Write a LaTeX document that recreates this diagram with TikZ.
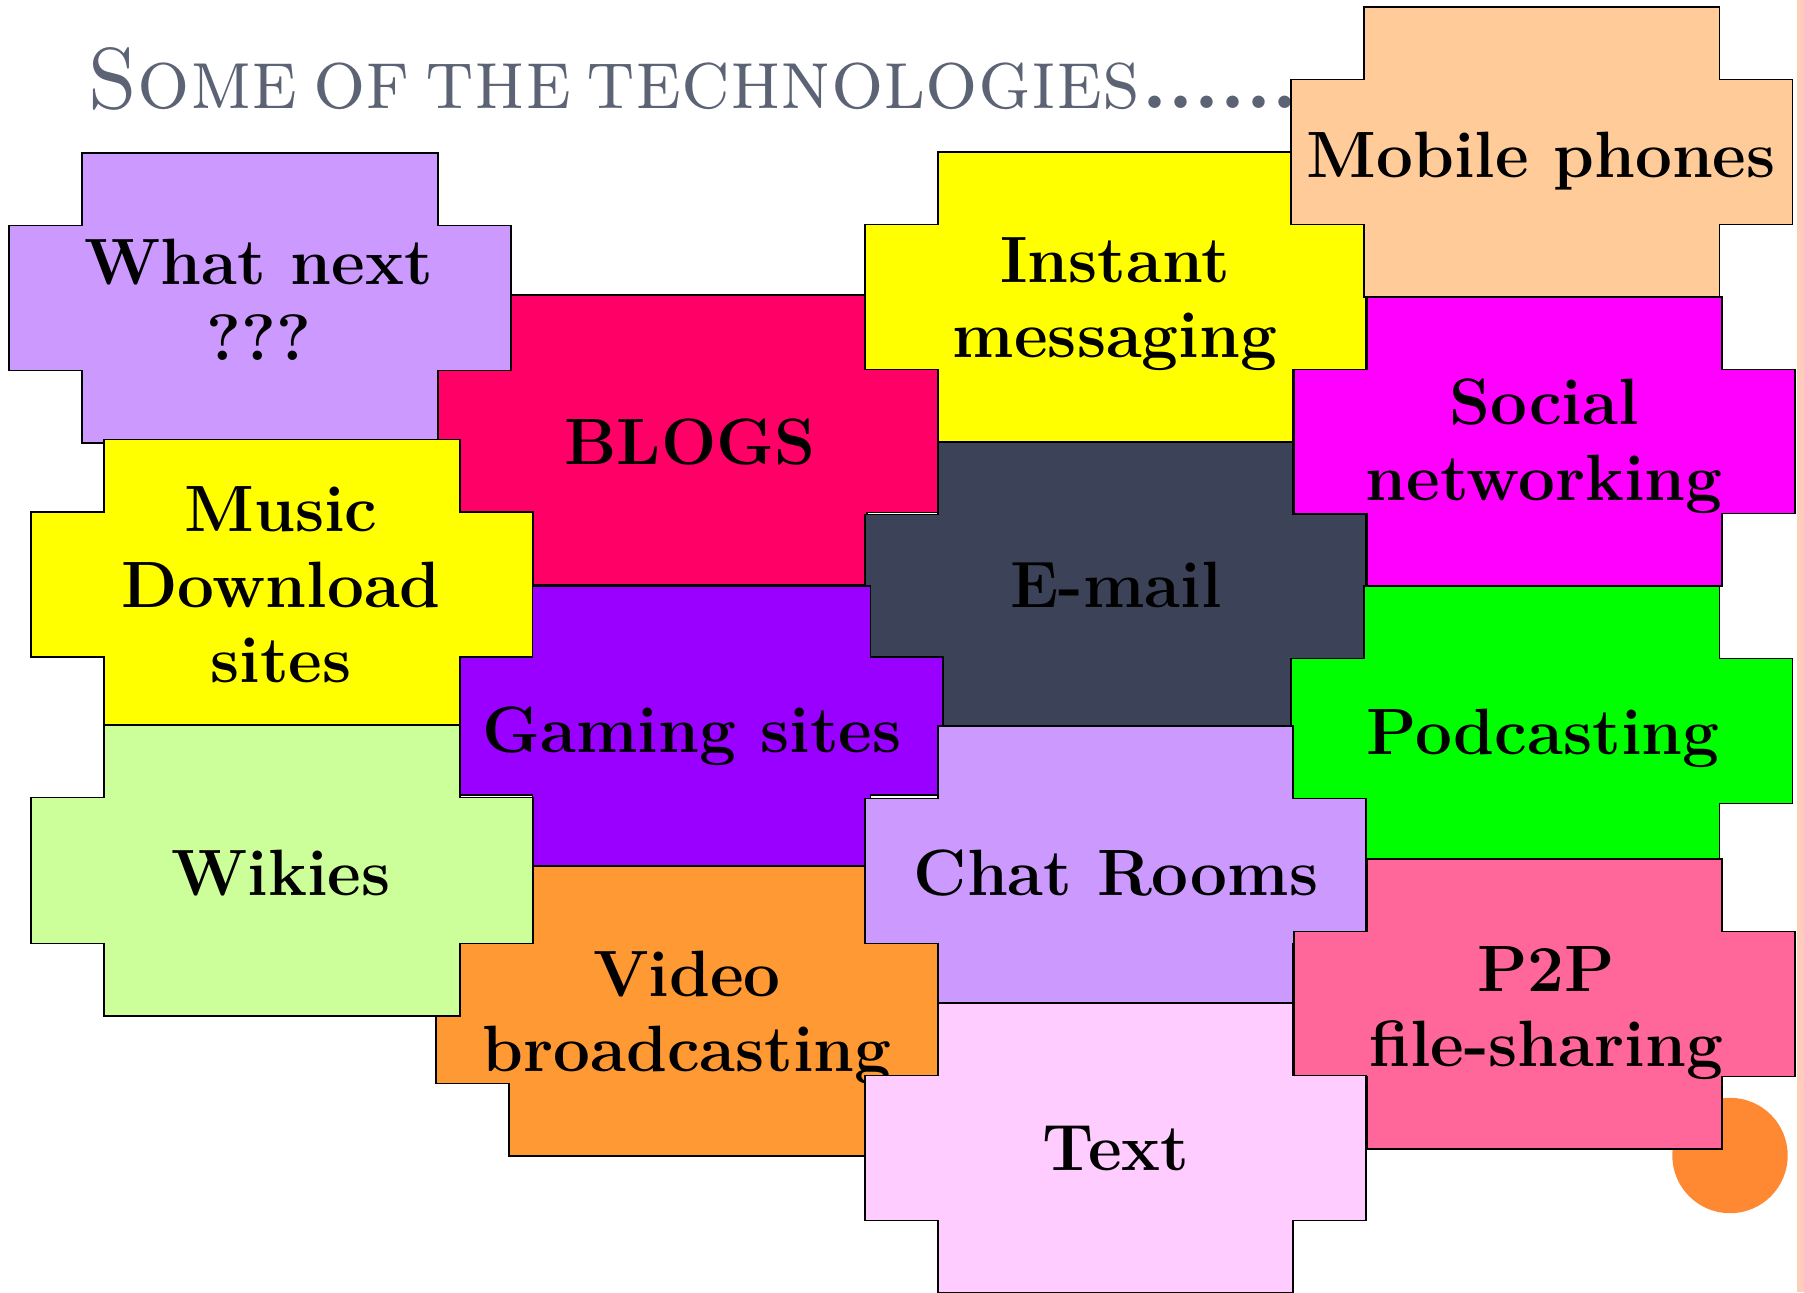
\documentclass[tikz,border=0pt]{standalone}
\usepackage{fontspec}
\usepackage{graphicx}
\definecolor{lavender}{HTML}{CC99FF}
\definecolor{blogpink}{HTML}{FF0066}
\definecolor{brightyellow}{HTML}{FFFF00}
\definecolor{peach}{HTML}{FFCC99}
\definecolor{magentafill}{HTML}{FF00FF}
\definecolor{slate}{HTML}{3C4359}
\definecolor{violetfill}{HTML}{9900FF}
\definecolor{limegreen}{HTML}{00FF00}
\definecolor{palegreen}{HTML}{CCFF99}
\definecolor{orangefill}{HTML}{FF9933}
\definecolor{rosefill}{HTML}{FF6699}
\definecolor{palepink}{HTML}{FFCCFF}
\definecolor{dotorange}{HTML}{FF8833}
\definecolor{stripcol}{HTML}{FFCCBB}
\definecolor{titlegray}{HTML}{5B6375}
\tikzset{
  shapeline/.style={draw=black, line width=0.6pt},
  techlabel/.style={font=\fontsize{26.2pt}{30.2pt}\selectfont\bfseries, align=center, inner sep=0pt, text=black},
  titlestyle/.style={font=\fontsize{34.6pt}{40pt}\selectfont, text=titlegray, inner sep=0pt},
}
\newcommand\titledot{\makebox[10.4pt][c]{\textbf{.}}}
% left, top, width, height, cut x, cut y, fill
\newcommand\plusshape[7]{%
  \filldraw[shapeline, fill=#7]
    ({#1+#5},{#2}) -- ({#1+#3-#5},{#2}) -- ({#1+#3-#5},{#2+#6}) -- ({#1+#3},{#2+#6})
    -- ({#1+#3},{#2+#4-#6}) -- ({#1+#3-#5},{#2+#4-#6}) -- ({#1+#3-#5},{#2+#4})
    -- ({#1+#5},{#2+#4}) -- ({#1+#5},{#2+#4-#6}) -- ({#1},{#2+#4-#6})
    -- ({#1},{#2+#6}) -- ({#1+#5},{#2+#6}) -- cycle;}
\begin{document}
\begin{tikzpicture}[x=0.4pt,y=-0.4pt]
\useasboundingbox (0,0) rectangle (1804,1292);
\fill[white] (0,0) rectangle (1804,1292);
\fill[stripcol] (1797,0) rectangle (1804,1292);
\node[titlestyle, anchor=base west] (title) at (87,108.6)
  {\scalebox{0.953}[1]{\spaceskip=0.19em\relax\textsc{Some of the technologies}}\hspace{0.7pt}\titledot\titledot\titledot\titledot\titledot\titledot};

\plusshape{438}{295}{502}{290}{73}{72.5}{blogpink}
\node[techlabel] (blogs) at (690,442) {BLOGS};

\plusshape{865}{442}{501}{290}{73}{72.5}{slate}
\node[techlabel] (email) at (1116,585) {E-mail};

\plusshape{865}{152}{501}{290}{73}{72.5}{brightyellow}
\node[techlabel] (instant) at (1115,304) {Instant\\messaging};

\plusshape{1291}{7}{501.5}{290}{73}{72.5}{peach}
\node[techlabel] (mobile) at (1541,161) {Mobile phones};

\plusshape{1294}{297}{501}{289}{73}{72.5}{magentafill}
\node[techlabel] (social) at (1544,446) {Social\\networking};

\plusshape{1291}{586}{501.5}{290}{73}{72.5}{limegreen}
\node[techlabel] (podcast) at (1543,738) {Podcasting};

\fill[dotorange] (1730,1155.5) circle[radius=57.7] coordinate (dot);

\plusshape{9}{153}{502}{290}{73}{72.5}{lavender}
\node[techlabel] (whatnext) at (259,300) {What next\\???};

\plusshape{31}{439.5}{502}{290}{73}{72.5}{brightyellow}
\node[techlabel] (music) at (281,585) {Music\\Download\\sites};

\plusshape{460}{586}{483}{280}{72.7}{71}{violetfill}
\node[techlabel] (gaming) at (692,736) {Gaming sites};

\plusshape{436}{866}{502}{290}{73}{72.5}{orangefill}
\node[techlabel] (video) at (687,1018) {Video\\broadcasting};

\plusshape{31}{725}{502}{291}{73}{72.5}{palegreen}
\node[techlabel] (wikies) at (281,873) {Wikies};

\plusshape{865}{726}{501}{290}{73}{72.5}{lavender}
\node[techlabel] (chat) at (1116,873) {Chat Rooms};

\plusshape{1294}{859}{501}{290}{73}{72.5}{rosefill}
\node[techlabel] (p2p) at (1546,1013) {P2P\\file-sharing};

\plusshape{865}{1003}{501}{290}{73}{72.5}{palepink}
\node[techlabel] (text) at (1116,1149) {Text};
\end{tikzpicture}
\end{document}
